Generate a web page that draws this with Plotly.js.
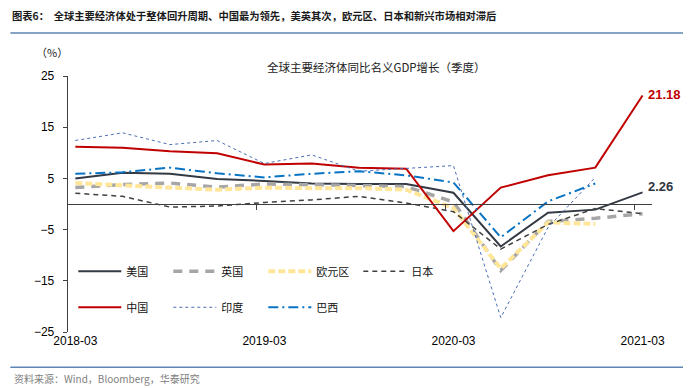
<!DOCTYPE html>
<html>
<head>
<meta charset="utf-8">
<script src="https://cdn.plot.ly/plotly-3.0.1.min.js"></script>
<style>
html,body{margin:0;padding:0;background:#fff;}
#chart{width:693px;height:388px;}
</style>
</head>
<body>
<div id="chart"></div>
<script>
// ---- data ----
const categories = ['2018-03','2018-06','2018-09','2018-12','2019-03','2019-06','2019-09','2019-12','2020-03','2020-06','2020-09','2020-12','2021-03'];
const labelCategories = ['2018-03','2019-03','2020-03','2021-03'];
const usa    = [5.0, 6.1, 5.9, 4.9, 4.5, 4.0, 3.9, 3.9, 2.2, -8.3, -1.7, -1.1, 2.26];
const uk     = [3.2, 3.8, 4.1, 3.3, 3.9, 3.8, 3.6, 3.4, 0.4, -13.0, -3.4, -2.8, -1.9];
const euro   = [4.1, 3.6, 3.2, 2.8, 3.2, 3.1, 3.1, 2.8, -0.8, -12.6, -3.6, -3.9, null];
const japan  = [2.1, 1.5, -0.6, -0.4, 0.3, 0.8, 1.5, 0.2, -1.5, -8.8, -4.0, -0.9, -1.9];
const china  = [11.2, 11.0, 10.3, 9.9, 7.7, 7.9, 7.1, 6.9, -5.3, 3.2, 5.6, 7.1, 21.18];
const india  = [12.4, 13.9, 11.6, 12.4, 7.9, 9.6, 6.4, 6.9, 7.5, -22.2, -4.6, 5.2, null];
const brazil = [5.9, 6.2, 7.1, 6.0, 5.2, 5.9, 6.4, 5.6, 4.2, -6.5, 0.5, 4.0, null];
const yTicks = [-25, -15, -5, 5, 15, 25];

// ---- layout geometry (px) ----
const W = 693, H = 388;
const L = 67.7, R = 652, T = 76, B = 331.7;
const px2x = p => (p - L) / (R - L);
const px2y = p => (B - p) / (B - T);

const idx = categories.map((c, i) => i);
const labelIdx = labelCategories.map(c => categories.indexOf(c));
const xr = [-0.155, 12.2];

const CJK = '"Noto Sans CJK SC", "Noto Sans", sans-serif';
const ARIAL = '"Liberation Sans", Arial, sans-serif';

function tr(name, y, line, legend) {
  return {x: idx, y: y, name: name, type: 'scatter', mode: 'lines',
    line: line, legend: legend || 'legend', hoverinfo: 'skip', connectgaps: false};
}

const data = [
  tr('美国', usa, {color: '#333A44', width: 2}),
  tr('英国', uk, {color: '#A6A6A6', width: 3.5, dash: '9px,7px'}),
  tr('欧元区', euro, {color: '#FFE699', width: 4, dash: '7px,3px'}),
  tr('日本', japan, {color: '#404040', width: 1.5, dash: '5px,4px'}),
  tr('中国', china, {color: '#C00000', width: 2}, 'legend2'),
  tr('印度', india, {color: '#4A6FB5', width: 1, dash: 'dot'}, 'legend2'),
  tr('巴西', brazil, {color: '#0A74C4', width: 2, dash: '10px,4px,2px,4px'}, 'legend2'),
  {x: idx, y: usa, xaxis: 'x2', yaxis: 'y', mode: 'lines', line: {width: 0},
   opacity: 0, showlegend: false, hoverinfo: 'skip'}
];

const lastChina = china[china.length - 1];
const lastUsa = usa[usa.length - 1];

const layout = {
  width: W, height: H,
  margin: {l: L, r: W - R, t: T, b: H - B, pad: 0},
  paper_bgcolor: '#fff', plot_bgcolor: '#fff',
  showlegend: true,
  xaxis: {
    range: xr, tickvals: labelIdx, ticktext: labelCategories,
    showline: false, ticks: '', showgrid: false, zeroline: false,
    tickfont: {family: ARIAL, size: 12, color: '#000'}
  },
  xaxis2: {
    overlaying: 'x', anchor: 'free', position: 0.5, range: xr,
    showline: true, linecolor: '#404040', linewidth: 1.3,
    ticks: 'outside', ticklen: 5, tickcolor: '#404040', tickwidth: 1,
    tickvals: labelIdx.slice(1).map(i => i - 0.16),
    showticklabels: false, showgrid: false, zeroline: false
  },
  yaxis: {
    range: [-25, 25], tickvals: yTicks, showgrid: false, zeroline: false,
    showline: true, linecolor: '#404040', linewidth: 1.3,
    ticks: 'outside', ticklen: 4, tickcolor: '#404040',
    ticklabelstandoff: 6,
    tickfont: {family: ARIAL, size: 12, color: '#000'}
  },
  legend: {
    xref: 'paper', yref: 'paper', x: px2x(73), y: px2y(271),
    xanchor: 'left', yanchor: 'middle', orientation: 'h',
    itemwidth: 43, entrywidth: 37, traceorder: 'normal',
    bgcolor: 'rgba(0,0,0,0)', font: {family: CJK, size: 11, color: '#111'}
  },
  legend2: {
    xref: 'paper', yref: 'paper', x: px2x(73), y: px2y(307),
    xanchor: 'left', yanchor: 'middle', orientation: 'h',
    itemwidth: 43, entrywidth: 37, traceorder: 'normal',
    bgcolor: 'rgba(0,0,0,0)', font: {family: CJK, size: 11, color: '#111'}
  },
  annotations: [
    {xref: 'paper', yref: 'paper', x: px2x(10), y: px2y(16), xanchor: 'left', yanchor: 'middle',
     text: '<b>图表6：  全球主要经济体处于整体回升周期、中国最为领先，美英其次，欧元区、日本和新兴市场相对滞后</b>',
     showarrow: false, font: {family: CJK, size: 10.3, color: '#1a1a1a'}},
    {xref: 'paper', yref: 'paper', x: px2x(12), y: px2y(378), xanchor: 'left', yanchor: 'middle',
     text: '资料来源：Wind，Bloomberg，华泰研究',
     showarrow: false, font: {family: CJK, size: 10, color: '#808080'}},
    {xref: 'paper', yref: 'paper', x: px2x(52), y: px2y(52), xanchor: 'center', yanchor: 'middle',
     text: '（%）', showarrow: false, font: {family: CJK, size: 11, color: '#222'}},
    {xref: 'paper', yref: 'paper', x: px2x(376), y: px2y(67), xanchor: 'center', yanchor: 'middle',
     text: '全球主要经济体同比名义GDP增长（季度）', showarrow: false,
     font: {family: CJK, size: 11.5, color: '#222'}},
    {xref: 'x', yref: 'y', x: idx[idx.length - 1], y: lastChina, xanchor: 'left', yanchor: 'middle',
     xshift: 3, yshift: 1, text: '<b>' + lastChina.toFixed(2) + '</b>', showarrow: false,
     font: {family: ARIAL, size: 13, color: '#C00000'}},
    {xref: 'x', yref: 'y', x: idx[idx.length - 1], y: lastUsa, xanchor: 'left', yanchor: 'middle',
     xshift: 3, yshift: 6, text: '<b>' + lastUsa.toFixed(2) + '</b>', showarrow: false,
     font: {family: ARIAL, size: 13, color: '#2F3640'}}
  ],
  shapes: [
    {type: 'line', xref: 'paper', yref: 'paper', x0: px2x(10), x1: px2x(683), y0: px2y(33), y1: px2y(33),
     line: {color: '#5E85B3', width: 1.5}},
    {type: 'line', xref: 'paper', yref: 'paper', x0: px2x(10), x1: px2x(683), y0: px2y(367), y1: px2y(367),
     line: {color: '#5E85B3', width: 1.5}}
  ]
};

Plotly.newPlot('chart', data, layout, {staticPlot: true, displayModeBar: false});
</script>
</body>
</html>
